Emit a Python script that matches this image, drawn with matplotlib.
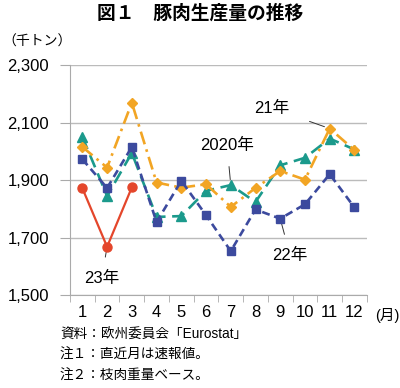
import numpy as np
import matplotlib.pyplot as plt

plt.rcParams['font.family'] = ['Liberation Sans', 'Noto Sans CJK JP']

# --- data (千トン) ---
months = list(range(1, 13))
y2020 = [2051, 1845, 1995, 1772, 1775, 1863, 1883, 1824, 1952, 1978, 2045, 2007]
y2021 = [2016, 1944, 2170, 1892, 1874, 1886, 1807, 1873, 1932, 1902, 2080, 2005]
y2022 = [1973, 1873, 2016, 1754, 1898, 1778, 1653, 1798, 1766, 1816, 1921, 1805]
y2023 = [1872, 1668, 1875]
yticks = [1500, 1700, 1900, 2100, 2300]
ytick_labels = ['1,500', '1,700', '1,900', '2,100', '2,300']

fig = plt.figure(figsize=(4, 3.88), dpi=100)
ax = fig.add_axes([0.175, 0.2397, 0.742, 0.5917])

ax.plot(months, y2020, color='#1b9a8c', linestyle=(0, (5, 2.5)), linewidth=1.9,
        marker='^', markersize=6.5, zorder=3)
ax.plot(months, y2021, color='#f2a524', linestyle=(0, (5, 2, 1, 2)), linewidth=1.9,
        marker='D', markersize=5.5, zorder=3)
ax.plot(months, y2022, color='#3c4a9e', linestyle=(0, (3, 1.8)), linewidth=1.9,
        marker='s', markersize=6, zorder=4)
ax.plot(months[:3], y2023, color='#e4462b', linestyle='-', linewidth=1.6,
        marker='o', markersize=6.5, zorder=5)

ax.set_xlim(0.5, 12.5)
ax.set_ylim(1500, 2300)
ax.set_yticks(yticks)
ax.set_yticklabels(ytick_labels, fontsize=12)
ax.set_xticks(months)
ax.set_xticklabels([str(m) for m in months], fontsize=12)
ax.set_xticks(np.arange(0.5, 13, 1), minor=True)
ax.tick_params(axis='x', which='major', length=0, pad=7)
ax.tick_params(axis='x', which='minor', length=5, color='#aaaaaa', direction='out')
ax.tick_params(axis='y', length=7, color='#aaaaaa', pad=8)
ax.grid(axis='y', color='#bbbbbb', linewidth=1)
for s in ['top', 'right']:
    ax.spines[s].set_visible(False)
for s in ['left', 'bottom']:
    ax.spines[s].set_color('#aaaaaa')

# annotations
ax.annotate('2020年', xy=(7, y2020[6]), xytext=(6.85, 2022), fontsize=12,
            ha='center', va='center',
            arrowprops=dict(arrowstyle='-', color='#333333', lw=0.7, shrinkA=8, shrinkB=4))
ax.annotate('21年', xy=(11, y2021[10]), xytext=(8.67, 2151), fontsize=12,
            ha='center', va='center',
            arrowprops=dict(arrowstyle='-', color='#333333', lw=0.7, shrinkA=13, shrinkB=4))
ax.annotate('22年', xy=(9, y2022[8]), xytext=(9.4, 1638), fontsize=12,
            ha='center', va='center',
            arrowprops=dict(arrowstyle='-', color='#333333', lw=0.7, shrinkA=8, shrinkB=4))
ax.annotate('23年', xy=(2, y2023[1]), xytext=(1.78, 1558), fontsize=12,
            ha='center', va='center',
            arrowprops=dict(arrowstyle='-', color='#333333', lw=0.7, shrinkA=8, shrinkB=4))

fig.text(0.5, 0.965, '図１　豚肉生産量の推移', ha='center', va='center',
         fontsize=13.5, fontweight='bold')
fig.text(0.005, 0.892, '（千トン）', ha='left', va='center', fontsize=10)
fig.text(0.998, 0.188, '(月)', ha='right', va='center', fontsize=10.5)
fig.text(0.15, 0.137, '資料：欧州委員会「Eurostat」', ha='left', va='center', fontsize=9.8)
fig.text(0.15, 0.085, '注１：直近月は速報値。', ha='left', va='center', fontsize=9.8)
fig.text(0.15, 0.031, '注２：枝肉重量ベース。', ha='left', va='center', fontsize=9.8)

fig.savefig('out.png', dpi=100)
